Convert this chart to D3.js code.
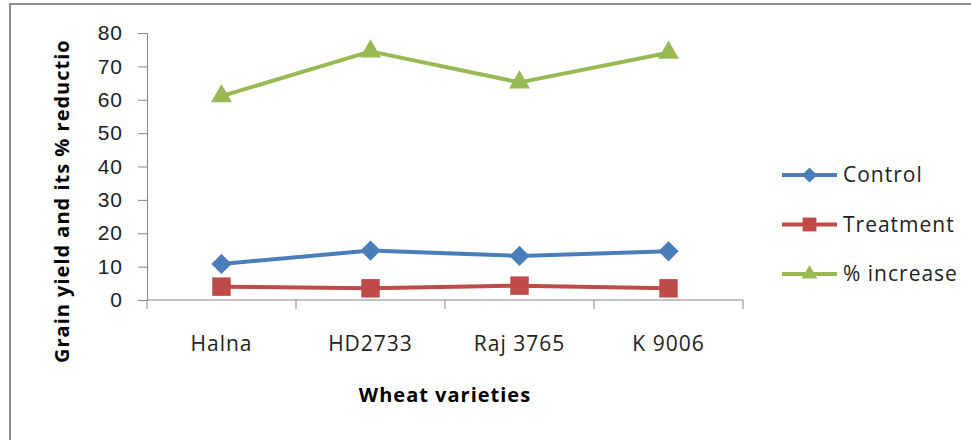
<!DOCTYPE html>
<html>
<head>
<meta charset="utf-8">
<script src="https://cdn.jsdelivr.net/npm/d3@7"></script>
<style>
  body { margin: 0; background: #fff; }
  svg { font-family: "Open Sans", sans-serif; }
  svg text { letter-spacing: 1px; }
</style>
</head>
<body>
<svg id="chart" width="971" height="440"></svg>
<script>
// datos
var variedades = ["Halna", "HD2733", "Raj 3765", "K 9006"];
var control = [10.8, 14.8, 13.2, 14.6];
var tratamiento = [4.0, 3.5, 4.3, 3.5];
var incremento = [61.1, 74.5, 65.2, 74.1];
var yTicks = [0, 10, 20, 30, 40, 50, 60, 70, 80];
var series = [
  { nombre: "Control", valores: control, color: "#4a7ebb", simbolo: "diamante" },
  { nombre: "Treatment", valores: tratamiento, color: "#be4b48", simbolo: "cuadrado" },
  { nombre: "% increase", valores: incremento, color: "#98b954", simbolo: "triangulo" }
];

// marcador segun tipo, escala 1 = grafico, menor = leyenda
function marcador(tipo, k) {
  if (tipo === "diamante") {
    return { d: d3.symbol().type(d3.symbolSquare).size(205 * k * k)(), rot: " rotate(45)" };
  }
  if (tipo === "cuadrado") {
    return { d: d3.symbol().type(d3.symbolSquare).size(340 * k * k)(), rot: "" };
  }
  return { d: d3.symbol().type(d3.symbolTriangle).size(190 * k * k)(), rot: "" };
}

var svg = d3.select("#chart");
var margin = { top: 33, left: 147, right: 228, bottom: 140 };
var width = 971 - margin.left - margin.right,
  height = 440 - margin.top - margin.bottom;

// marco
svg.append("rect")
  .attr("x", 10).attr("y", 4)
  .attr("width", 980).attr("height", 460)
  .attr("fill", "none").attr("stroke", "#8a8a8a").attr("stroke-width", 2);

var xScale = d3.scaleBand().domain(variedades).range([0, width]),
  yScale = d3.scaleLinear().domain([0, 80]).range([height, 0]);

var g = svg.append("g")
  .attr("transform", "translate(" + margin.left + "," + margin.top + ")");

var ejeX = g.append("g")
  .attr("transform", "translate(0," + height + ")")
  .call(d3.axisBottom(xScale).tickSize(0).tickPadding(0).tickFormat(""));
ejeX.select(".domain").attr("stroke", "#868686").attr("d", "M0,0H" + width);
ejeX.selectAll(".tick text").remove();
// ticks entre categorias
ejeX.selectAll(".sep")
  .data(d3.range(variedades.length + 1))
  .enter().append("line")
  .attr("class", "sep")
  .attr("x1", function (i) { return i * xScale.step(); })
  .attr("x2", function (i) { return i * xScale.step(); })
  .attr("y1", 0).attr("y2", 9)
  .attr("stroke", "#868686");

g.selectAll(".xlabel")
  .data(variedades)
  .enter().append("text")
  .attr("class", "xlabel")
  .attr("x", function (d) { return xScale(d) + xScale.bandwidth() / 2; })
  .attr("y", height + 51)
  .attr("text-anchor", "middle")
  .attr("font-size", 21)
  .attr("fill", "#222")
  .text(function (d) { return d; });

var ejeY = g.append("g")
  .call(d3.axisLeft(yScale).tickValues(yTicks).tickSize(9).tickPadding(15).tickSizeOuter(9));
ejeY.select(".domain").attr("stroke", "#868686");
ejeY.selectAll(".tick line").attr("stroke", "#868686");
ejeY.selectAll(".tick text").attr("font-size", 21).attr("fill", "#222").attr("font-family", "inherit");

// titulos
svg.append("text")
  .attr("transform", "translate(69,363) rotate(-90)")
  .attr("font-size", 20)
  .attr("font-weight", "bold")
  .attr("fill", "#000")
  .text("Grain yield and its % reductio");

svg.append("text")
  .attr("x", margin.left + width / 2)
  .attr("y", 402)
  .attr("text-anchor", "middle")
  .attr("font-size", 20)
  .attr("font-weight", "bold")
  .attr("fill", "#000")
  .text("Wheat varieties");

var linea = d3.line()
  .x(function (d, i) { return xScale(variedades[i]) + xScale.bandwidth() / 2; })
  .y(function (d) { return yScale(d); });

for (let s of series) {
  let m = marcador(s.simbolo, 1);
  g.append("path")
    .datum(s.valores)
    .attr("d", linea)
    .attr("fill", "none")
    .attr("stroke", s.color)
    .attr("stroke-width", 4)
    .attr("stroke-linejoin", "round");
  g.selectAll(null)
    .data(s.valores)
    .enter().append("path")
    .attr("transform", function (d, i) {
      return "translate(" + (xScale(variedades[i]) + xScale.bandwidth() / 2) + "," + yScale(d) + ")" + m.rot;
    })
    .attr("d", m.d)
    .attr("fill", s.color);
}

// leyenda
var leyenda = svg.append("g").attr("transform", "translate(782,175)");
series.forEach(function (s, i) {
  let m = marcador(s.simbolo, 0.75);
  var fila = leyenda.append("g").attr("transform", "translate(0," + (i * 49.5) + ")");
  fila.append("line")
    .attr("x1", 0).attr("x2", 55).attr("y1", 0).attr("y2", 0)
    .attr("stroke", s.color).attr("stroke-width", 4);
  fila.append("path")
    .attr("transform", "translate(27.5,0)" + m.rot)
    .attr("d", m.d)
    .attr("fill", s.color);
  fila.append("text")
    .attr("x", 61).attr("y", 7)
    .attr("font-size", 21)
    .attr("fill", "#222")
    .text(s.nombre);
});
</script>
</body>
</html>
